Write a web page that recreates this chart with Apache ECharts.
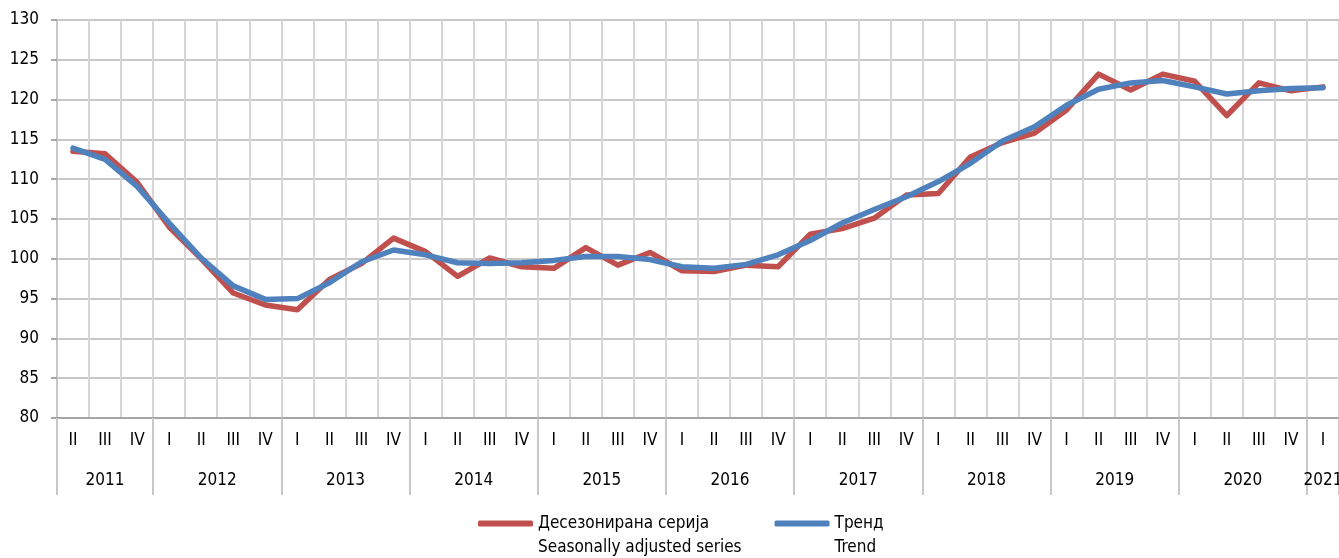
<!DOCTYPE html>
<html>
<head>
<meta charset="utf-8">
<script src="https://cdn.jsdelivr.net/npm/echarts@6/dist/echarts.min.js"></script>
<style>
  html, body { margin: 0; padding: 0; background: #fff; }
  #main { width: 1339px; height: 558px; }
</style>
</head>
<body>
<div id="main"></div>
<script>
// кварталы 2011 II - 2021 I
var quarters = ['II','III','IV',
  'I','II','III','IV', 'I','II','III','IV', 'I','II','III','IV',
  'I','II','III','IV', 'I','II','III','IV', 'I','II','III','IV',
  'I','II','III','IV', 'I','II','III','IV', 'I','II','III','IV', 'I'];
var years = ['2011','2012','2013','2014','2015','2016','2017','2018','2019','2020','2021'];
var quartersInYear = [3, 4, 4, 4, 4, 4, 4, 4, 4, 4, 1];

// десезонирана серија
var seasAdj = [113.5, 113.2, 109.6,
  104.0, 100.0, 95.7, 94.2,
  93.6, 97.4, 99.4, 102.6,
  100.9, 97.8, 100.1, 99.0,
  98.8, 101.4, 99.2, 100.8,
  98.5, 98.4, 99.2, 99.0,
  103.1, 103.8, 105.1, 108.0,
  108.2, 112.8, 114.6, 115.8,
  118.7, 123.2, 121.2, 123.2,
  122.3, 118.0, 122.1, 121.1,
  121.6];
// тренд
var trend = [113.9, 112.5, 109.1,
  104.5, 100.1, 96.6, 94.9,
  95.0, 97.0, 99.6, 101.1,
  100.5, 99.5, 99.4, 99.5,
  99.8, 100.3, 100.3, 99.9,
  99.0, 98.8, 99.3, 100.5,
  102.3, 104.5, 106.2, 107.8,
  109.7, 112.0, 114.8, 116.6,
  119.3, 121.3, 122.1, 122.4,
  121.6, 120.7, 121.1, 121.4,
  121.5];

var seriesNames = ['Десезонирана серија\nSeasonally adjusted series', 'Тренд\nTrend'];

var font = "'DejaVu Sans Condensed', 'Liberation Sans', sans-serif";

// границы година и средини за натписи
var yearBounds = [0];
var yearCenters = [];
var yearByCenter = {};
quartersInYear.forEach(function (n, k) {
  var start = yearBounds[yearBounds.length - 1];
  yearBounds.push(start + n);
  var c = start + n / 2;
  yearCenters.push(c);
  yearByCenter[String(c)] = years[k];
});

var myChart = echarts.init(document.getElementById('main'));
var option = {
  animation: false,
  textStyle: { fontFamily: font },
  grid: { left: 57, right: 0, top: 20, bottom: 140, outerBoundsMode: 'none', containLabel: false },
  legend: {
    left: 478,
    top: 486,
    padding: 0,
    itemGap: 33,
    itemWidth: 55,
    itemHeight: 6,
    icon: 'roundRect',
    // празен ред горе да иконата стои до првиот ред
    formatter: function (name) { return ' \n' + name; },
    textStyle: { fontFamily: font, fontSize: 17, color: '#000', lineHeight: 24, padding: [3, 0, 0, 0] },
    data: seriesNames
  },
  xAxis: [
    {
      type: 'category',
      data: quarters,
      boundaryGap: true,
      axisLine: { lineStyle: { color: '#a6a6a6', width: 2 } },
      axisTick: { interval: 0, length: 44, lineStyle: { color: '#c8c8c8', width: 2 } },
      axisLabel: { interval: 0, margin: 14, fontSize: 17, color: '#000', fontFamily: font },
      splitLine: { show: true, interval: 0, lineStyle: { color: '#d6d6d6', width: 2 } }
    },
    {
      type: 'value',
      min: 0,
      max: quarters.length,
      position: 'bottom',
      axisLine: { show: false },
      axisTick: { show: true, customValues: yearBounds, length: 77, lineStyle: { color: '#c8c8c8', width: 2 } },
      axisLabel: {
        show: true,
        customValues: yearCenters,
        margin: 54,
        fontSize: 17,
        color: '#000',
        fontFamily: font,
        formatter: function (v) { return yearByCenter[String(v)] || ''; }
      },
      splitLine: { show: false }
    }
  ],
  yAxis: {
    type: 'value',
    min: 80,
    max: 130,
    interval: 5,
    axisLine: { show: true, lineStyle: { color: '#c8c8c8', width: 2 } },
    axisTick: { show: true, length: 6, lineStyle: { color: '#a6a6a6', width: 2 } },
    axisLabel: { margin: 18, fontSize: 17, color: '#000', fontFamily: font },
    splitLine: { lineStyle: { color: '#c8c8c8', width: 2 } }
  },
  series: [
    {
      name: seriesNames[0],
      type: 'line',
      data: seasAdj,
      showSymbol: false,
      lineStyle: { color: '#C0504D', width: 5.5, join: 'round', cap: 'round' },
      itemStyle: { color: '#C0504D' }
    },
    {
      name: seriesNames[1],
      type: 'line',
      data: trend,
      showSymbol: false,
      lineStyle: { color: '#4F81BD', width: 5.5, join: 'round', cap: 'round' },
      itemStyle: { color: '#4F81BD' }
    }
  ]
};
myChart.setOption(option);
</script>
</body>
</html>
